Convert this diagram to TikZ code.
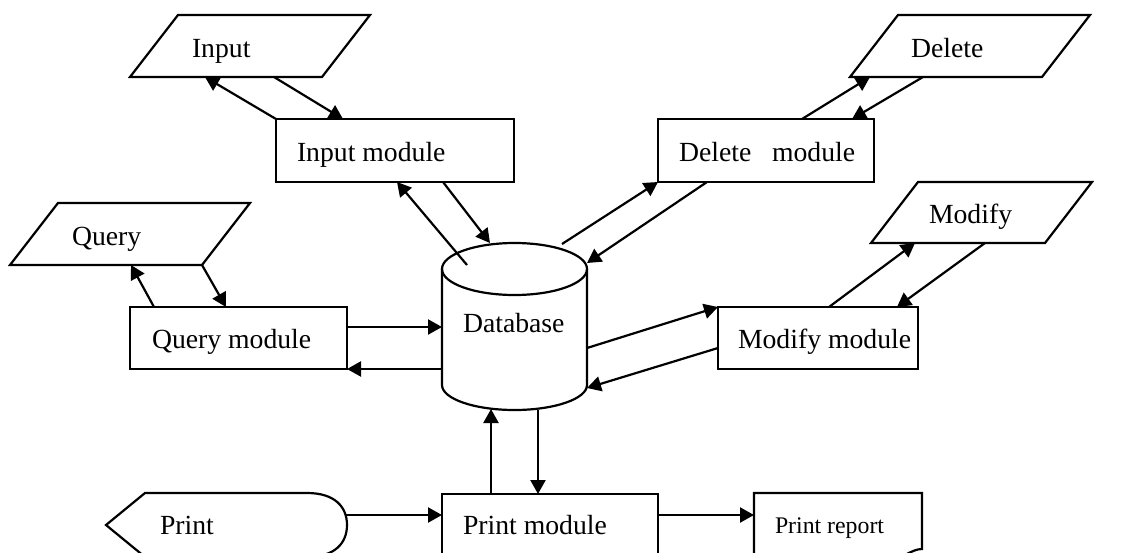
\documentclass[tikz,border=0pt]{standalone}
\usepackage{fontspec}
\setmainfont{Liberation Serif}
\usetikzlibrary{arrows.meta,calc}
\begin{document}
\begin{tikzpicture}[x=1pt,y=-1pt,
  frame/.style 2 args={inner sep=0pt,outer sep=0pt,minimum width=#1pt,minimum height=#2pt},
  box/.style 2 args={frame={#1}{#2},draw,line width=2.2pt},
  shp/.style={line width=2.2pt,line join=miter},
  lbl/.style={inner sep=0pt,outer sep=0pt,font=\fontsize{27.7}{33}\selectfont},
  small/.style={inner sep=0pt,outer sep=0pt,font=\fontsize{23.8}{28}\selectfont},
  arr/.style={line width=2.2pt,-{Triangle[length=14pt,width=15pt]}}]
\useasboundingbox (0,0) rectangle (1136,552);
\clip (0,0) rectangle (1136,552);
\fill[white] (0,0) rectangle (1136,552);

% ---- frames / shapes ----
\node[frame={240}{62}] (inp) at (250,46) {};
\draw[shp] (inp.south west) -- ($(inp.north west)+(48,0)$) -- (inp.north east) -- ($(inp.south east)+(-48,0)$) -- cycle;
\node[box={238}{63}] (im) at (395,150.5) {};

\node[frame={240}{62}] (del) at (970,46) {};
\draw[shp] (del.south west) -- ($(del.north west)+(48,0)$) -- (del.north east) -- ($(del.south east)+(-48,0)$) -- cycle;
\node[box={216}{63}] (dm) at (766,150.5) {};

\node[frame={240}{62}] (qry) at (130,234) {};
\draw[shp] (qry.south west) -- ($(qry.north west)+(48,0)$) -- (qry.north east) -- ($(qry.south east)+(-48,0)$) -- cycle;
\node[box={217}{62}] (qm) at (238.5,338) {};

\node[frame={221}{61}] (mod) at (981.5,212.5) {};
\draw[shp] (mod.south west) -- ($(mod.north west)+(47,0)$) -- (mod.north east) -- ($(mod.south east)+(-47,0)$) -- cycle;
\node[box={200}{62}] (mm) at (818,338) {};

% database cylinder
\node[frame={145}{167}] (db) at (514.5,326.5) {};
\draw[shp] ($(db.north)+(0,26)$) ellipse [x radius=72.5pt,y radius=26pt];
\draw[shp] ($(db.north west)+(0,26)$) -- ($(db.south west)+(0,-25)$)
  arc[start angle=180,end angle=360,x radius=72.5pt,y radius=25pt]
  -- ($(db.north east)+(0,26)$);

\node[box={216}{62}] (pm) at (550,525) {};

% print (display shape)
\node[frame={241}{64}] (prn) at (226.5,525) {};
\draw[shp] (prn.west) -- ($(prn.north west)+(39,0)$) -- ($(prn.north east)+(-40,0)$)
  .. controls ($(prn.north east)+(-12,0)$) and ($(prn.east)+(0,-18)$) .. (prn.east)
  .. controls ($(prn.east)+(0,18)$) and ($(prn.south east)+(-12,0)$) .. ($(prn.south east)+(-40,0)$)
  -- ($(prn.south west)+(39,0)$) -- cycle;

% print report (document shape)
\node[frame={168}{70}] (rep) at (838,528) {};
\draw[shp] (rep.south west) -- (rep.north west) -- (rep.north east) -- ($(rep.south east)+(0,-14)$)
  .. controls ($(rep.south east)+(-10,-14)$) and ($(rep.south east)+(-20,-5)$) .. ($(rep.south east)+(-40,4)$)
  .. controls ($(rep.south)+(-20,14)$) and ($(rep.south west)+(30,0)$) .. (rep.south west);

% ---- texts ----
\node[lbl,anchor=base west] (tinp) at (192,57) {Input};
\node[lbl,anchor=base west] (tim) at (297,161) {Input module};
\node[lbl,anchor=base west] (tdel) at (911,57) {Delete};
\node[lbl,anchor=base west] (tdm) at (679,161) {Delete~~~module};
\node[lbl,anchor=base west] (tqry) at (72,245) {Query};
\node[lbl,anchor=base west] (tqm) at (152,348) {Query module};
\node[lbl,anchor=base west] (tdb) at (463,332) {Database};
\node[lbl,anchor=base west] (tmod) at (929,223) {Modify};
\node[lbl,anchor=base west] (tmm) at (738,348) {Modify module};
\node[lbl,anchor=base west] (tprn) at (160,534) {Print};
\node[lbl,anchor=base west] (tpm) at (463,534) {Print module};
\node[small,anchor=base west] (trep) at (775,533) {Print report};

% ---- connectors ----
\draw[arr] (im.north west) -- ($(inp.south west)+(75,0)$);
\draw[arr] ($(inp.south west)+(144,0)$) -- ($(im.north west)+(67,0)$);
\draw[arr] ($(db.north west)+(25,22)$) -- ($(im.south west)+(121,0)$);
\draw[arr] ($(im.south west)+(167,0)$) -- ($(db.north west)+(48,0)$);
\draw[arr] ($(db.north west)+(120,1)$) -- (dm.south west);
\draw[arr] ($(dm.south west)+(49,0)$) -- ($(db.north east)+(0,20)$);
\draw[arr] ($(dm.north west)+(144,0)$) -- ($(del.south west)+(20,0)$);
\draw[arr] ($(del.south west)+(73,0)$) -- ($(dm.north west)+(194,0)$);
\draw[arr] ($(qm.north west)+(24,0)$) -- ($(qry.south west)+(121,0)$);
\draw[arr] ($(qry.south west)+(192,0)$) -- ($(qm.north west)+(96,0)$);
\draw[arr] ($(qm.north east)+(0,20)$) -- ($(db.north west)+(0,84)$);
\draw[arr] ($(db.north west)+(0,126)$) -- (qm.south east);
\draw[arr] ($(db.north east)+(0,105)$) -- (mm.north west);
\draw[arr] ($(mm.north west)+(0,41)$) -- ($(db.north east)+(0,145)$);
\draw[arr] ($(mm.north west)+(111,0)$) -- ($(mod.south west)+(44,0)$);
\draw[arr] ($(mod.south west)+(114,0)$) -- ($(mm.north west)+(179,0)$);
\draw[arr] ($(pm.north west)+(49,0)$) -- ($(db.south west)+(49,-1)$);
\draw[arr] ($(db.south west)+(96,0)$) -- ($(pm.north west)+(96,0)$);
\draw[arr] ($(prn.north east)+(-2,22)$) -- ($(pm.north west)+(0,21)$);
\draw[arr] ($(pm.north east)+(0,21)$) -- ($(rep.north west)+(0,22)$);
\end{tikzpicture}
\end{document}
